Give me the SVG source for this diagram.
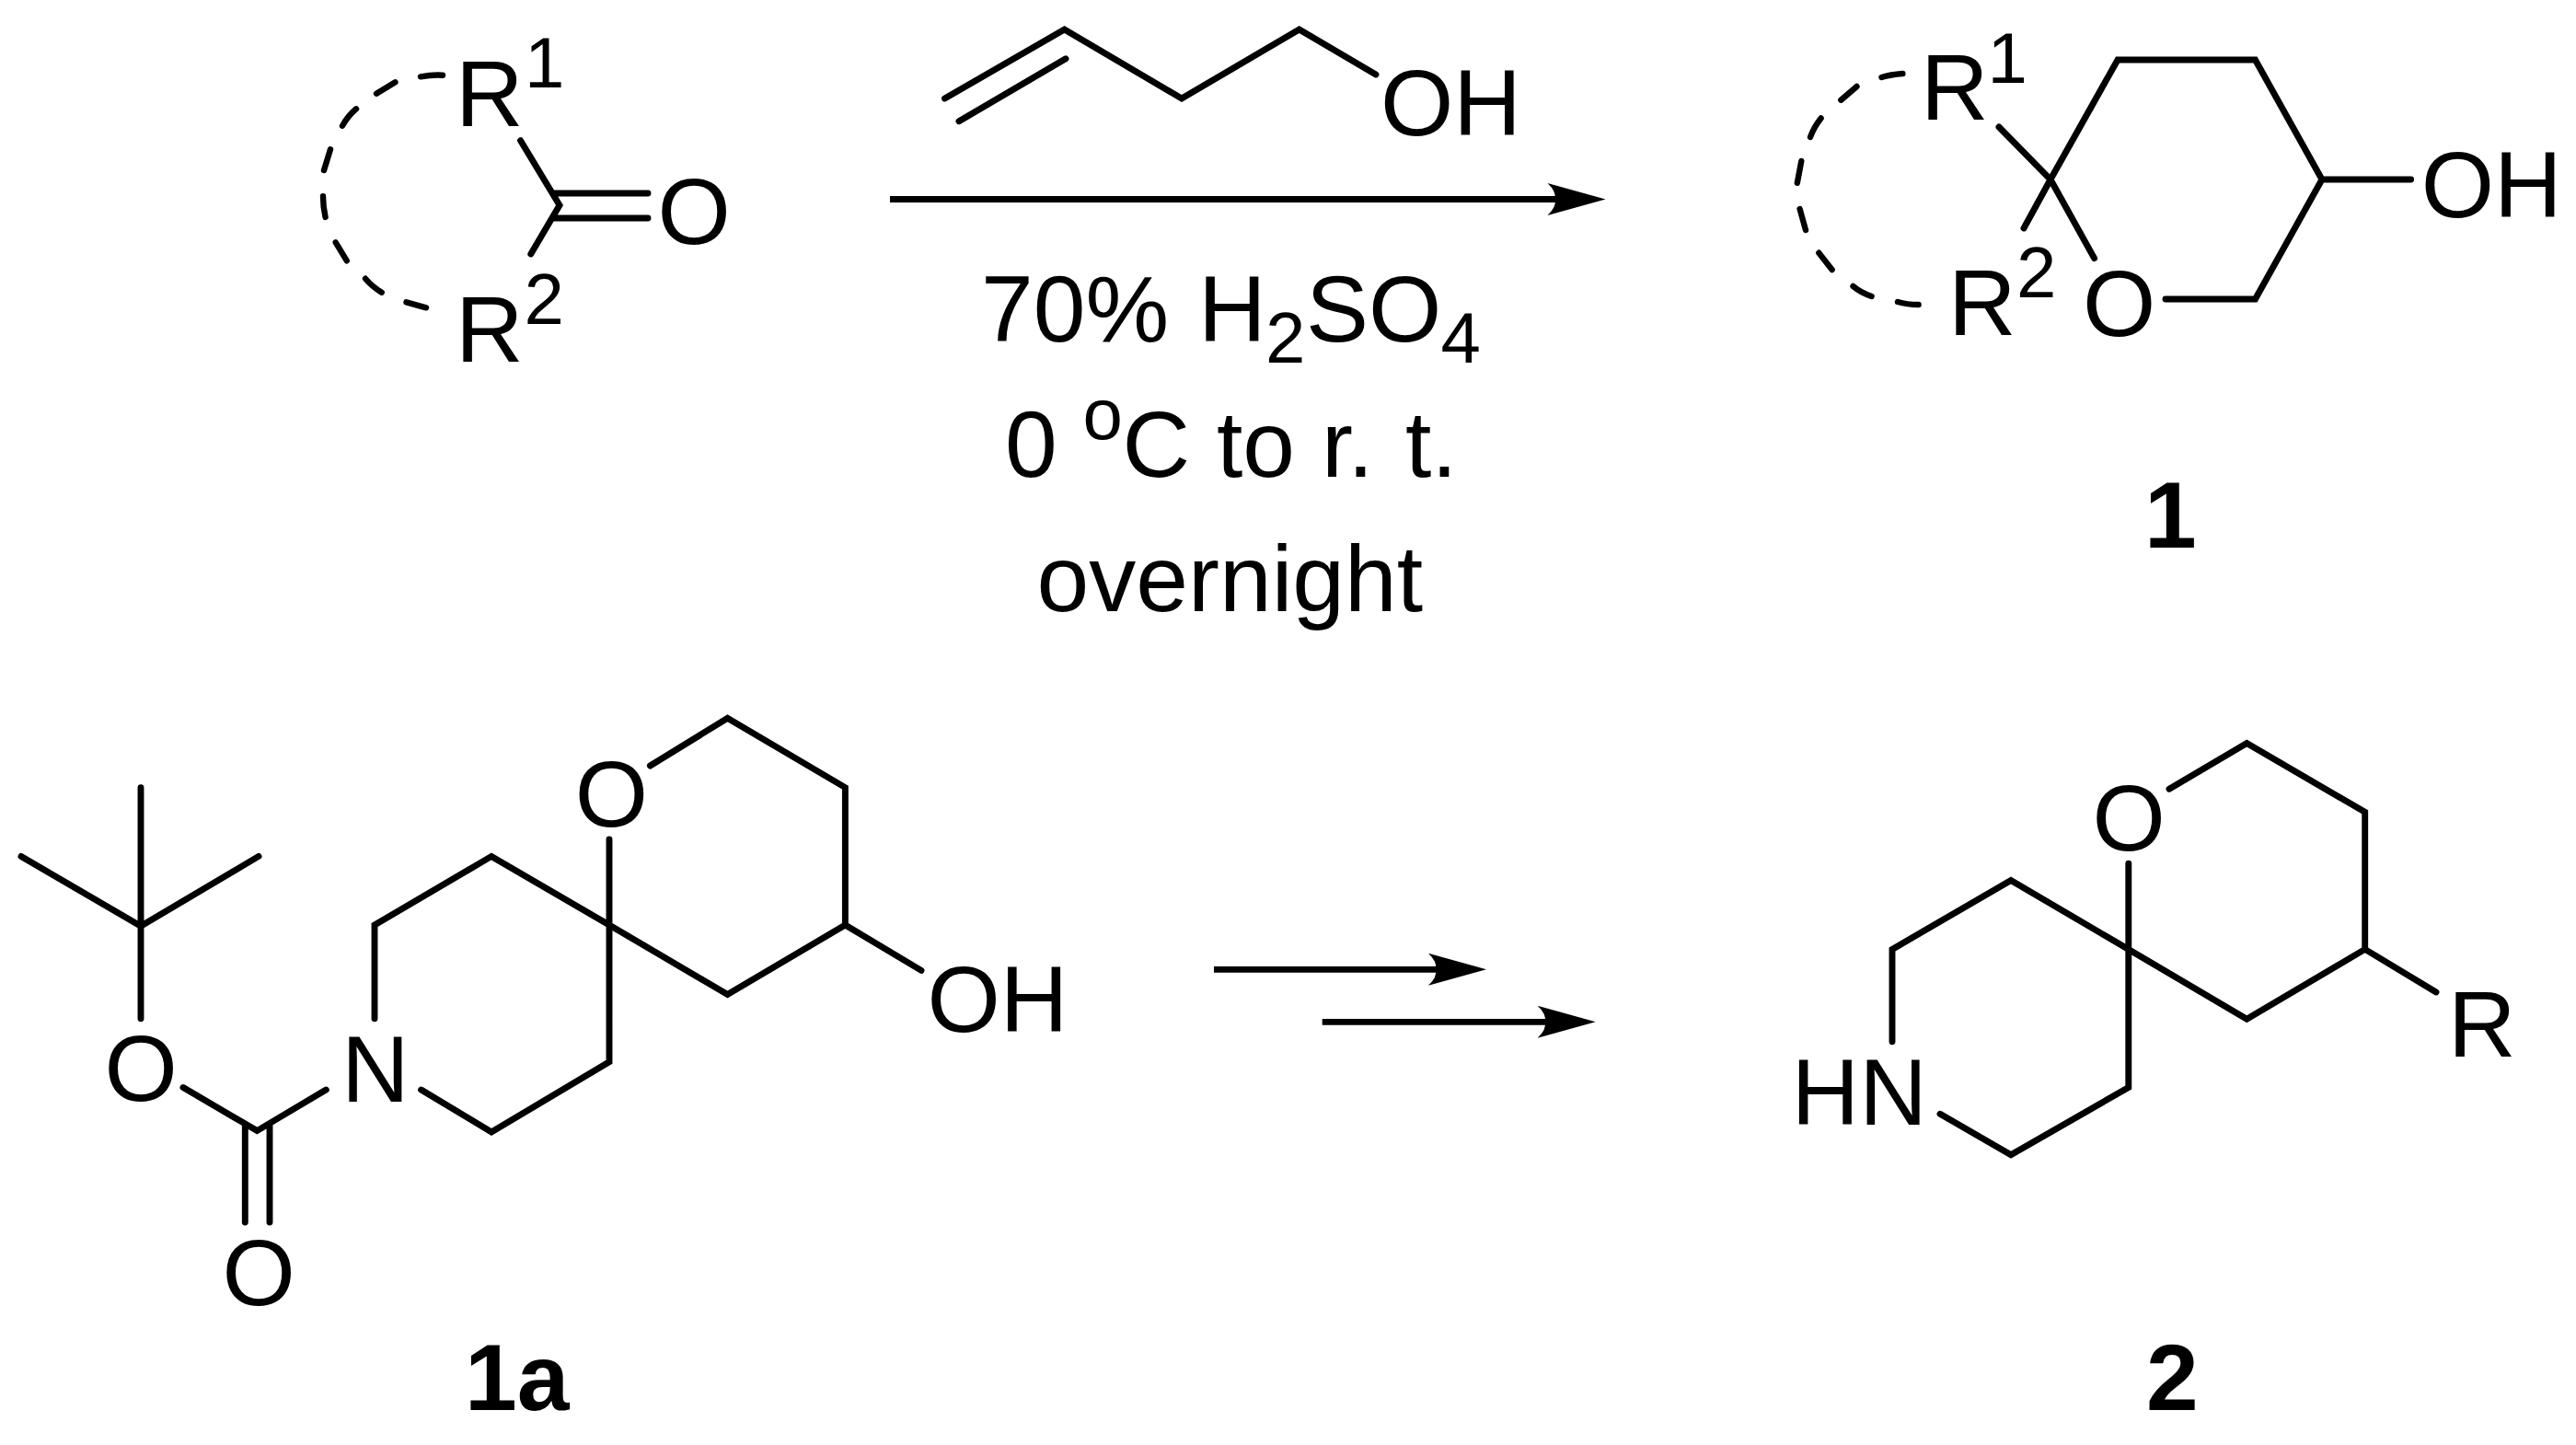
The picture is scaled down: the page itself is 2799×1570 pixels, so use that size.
<svg xmlns="http://www.w3.org/2000/svg" width="2799" height="1570" viewBox="0 0 2799 1570">
<style>
text{font-family:"Liberation Sans",Arial,sans-serif;font-size:102px;fill:#000}
.s{font-size:78px}
.b{font-weight:bold}
.bond{fill:none;stroke:#000;stroke-width:6.9;stroke-linecap:round;stroke-linejoin:miter}
.dash{fill:none;stroke:#000;stroke-width:6.4;stroke-linecap:round}
.arrow{fill:none;stroke:#000;stroke-width:6.8;marker-end:url(#head)}
</style>
<defs>
<marker id="head" markerUnits="userSpaceOnUse" markerWidth="64" markerHeight="36" refX="9" refY="18" orient="auto" overflow="visible">
<path d="M63 18L0 0.5Q10 10 8 18Q10 26 0 35.5Z" fill="#000"/>
</marker>
</defs>
<rect width="2799" height="1570" fill="#fff"/>

<g id="ketone">
<path class="bond" d="M565.6 152.7L608 223L576.8 276M601 210H704M601 237H704"/>
<path class="dash" d="M457 83.3Q470 81 481 81.7M409 101.7L429.5 89.3M372 136.7Q378 126 387 118.3M352 185L359 162.3M351 213.3Q351 225 353.6 236M364.7 263.3L376.8 283.3M397 302.7Q404 311 414.7 317.7M441.5 328.3L463 334.3"/>
<text x="495" y="136.7">R<tspan class="s" x="570" y="95">1</tspan></text>
<text x="495" y="392.7">R<tspan class="s" x="569.5" y="352">2</tspan></text>
<text x="714.5" y="264.5">O</text>
</g>

<g id="butenol">
<path class="bond" d="M1026.5 107L1156.6 32L1284 107L1411.7 32L1495 81M1042 131.7L1158 63.8"/>
<text x="1500" y="147.3">OH</text>
</g>

<g id="conditions">
<text x="1066" y="371.4">70%<tspan x="1302">H</tspan><tspan class="s" x="1375" y="394">2</tspan><tspan x="1419" y="371.4">SO</tspan><tspan class="s" x="1565.5" y="394">4</tspan></text>
<text x="1092" y="518">0<tspan class="s" x="1176.5" y="477">o</tspan><tspan x="1219.5" y="518">C</tspan><tspan x="1322">to</tspan><tspan x="1436">r.</tspan><tspan x="1527">t.</tspan></text>
<text x="1126.5" y="664">overnight</text>
</g>

<g id="product-1">
<path class="bond" d="M2228 195L2301 65H2450.5L2523 195L2450.5 325H2353M2523 195H2619.6M2172 138L2228 195L2199 248M2228 195L2275.6 280.6"/>
<path class="dash" d="M2067.4 80Q2054 81 2044.5 84M2017.5 94L2000.3 108.7M1978.6 128.5Q1971 138 1967 149M1957.3 175L1952.8 198.8M1955.6 227L1962 250M1976.3 274.7L1990.6 293M2013.5 311Q2022 318 2033.6 322M2062 328Q2072 331 2084.6 331"/>
<text x="2087" y="130.4">R<tspan class="s" x="2159.4" y="90">1</tspan></text>
<text x="2117" y="364.4">R<tspan class="s" x="2191" y="323">2</tspan></text>
<text x="2263" y="364.5">O</text>
<text x="2630.7" y="236">OH</text>
<text class="b" x="2330" y="595">1</text>
</g>

<g id="compound-1a">
<path class="bond" d="M153 855.6V1106.7M23 930.4L153 1006.3L281 930.4M199 1181.5L279.3 1228.6L354.3 1184M266.3 1223.3V1328M293 1223.3V1328"/>
<path class="bond" d="M407 1106.7V1005L534 930.4L662 1005L790.5 1080.5L918.4 1005V855.6L790.5 780.3L706.4 832M662 912V1153.8L534 1230L457.6 1184M918.4 1005L1001 1054.4"/>
<text x="113.6" y="1196">O</text>
<text x="241.4" y="1418">O</text>
<text x="371" y="1197">N</text>
<text x="624.8" y="898">O</text>
<text x="1007.5" y="1121">OH</text>
<text class="b" x="505" y="1532">1a</text>
</g>

<g id="compound-2">
<path class="bond" d="M2056 1131.8V1031.4L2185 956.6L2312.8 1031.4L2441.3 1107.2L2569.7 1031.4V882.3L2441.3 807.5L2357 857.2M2312.8 938.3V1181.5L2185 1254.7L2108 1210.3M2569.7 1031.4L2647 1078"/>
<text x="2273.4" y="924">O</text>
<text x="1946.5" y="1221.8">HN</text>
<text x="2660" y="1147.5">R</text>
<text class="b" x="2332" y="1532">2</text>
</g>

<g id="connectors">
<line class="arrow" x1="967" y1="216.5" x2="1690.5" y2="216.5"/>
<line class="arrow" x1="1319" y1="1053.3" x2="1561" y2="1053.3"/>
<line class="arrow" x1="1436.7" y1="1110.3" x2="1679.7" y2="1110.3"/>
</g>
</svg>
